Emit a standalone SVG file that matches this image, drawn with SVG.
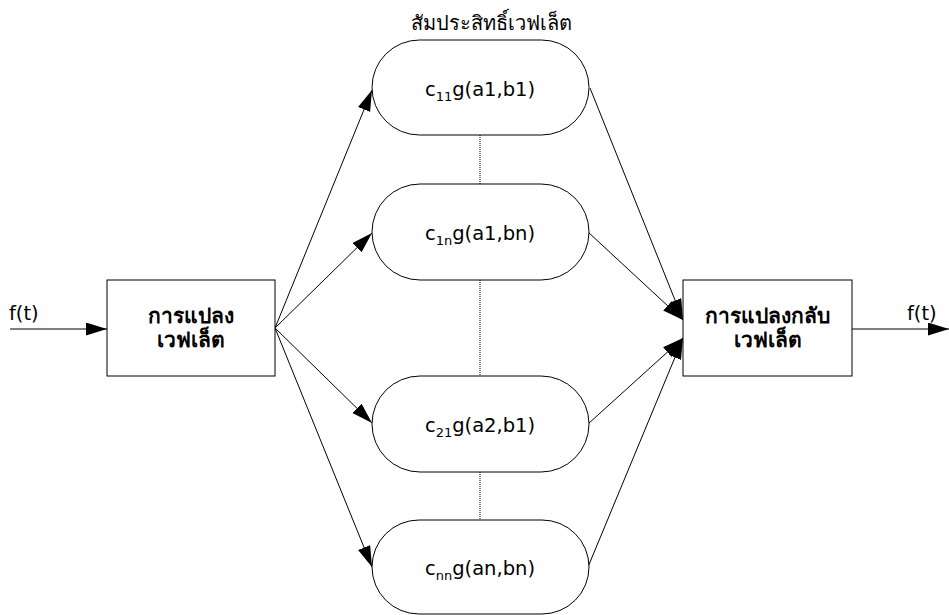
<svg xmlns="http://www.w3.org/2000/svg" width="949" height="615" viewBox="0 0 949 615">
<defs>
<marker id="ah" markerUnits="userSpaceOnUse" markerWidth="22" markerHeight="14" refX="21" refY="6.5" orient="auto">
<path d="M0,0 L21,6.5 L0,13 z" fill="#000"/>
</marker>
<style>
.box{fill:#fff;stroke:#000;stroke-width:1}
.pill{fill:#fff;stroke:#000;stroke-width:1}
.arr{fill:none;stroke:#000;stroke-width:1;marker-end:url(#ah)}
.dot{fill:none;stroke:#000;stroke-width:1;stroke-dasharray:1,1}
.t{font-family:"DejaVu Sans","Noto Sans",sans-serif;font-size:19.5px;fill:#000}
.th{font-family:"DejaVu Sans","Noto Sans",sans-serif;font-size:20px;fill:#000}
.tb{font-family:"DejaVu Sans","Noto Sans",sans-serif;font-size:21px;font-weight:bold;fill:#000}
.sub{font-size:13px}
</style>
</defs>
<rect width="949" height="615" fill="#fff"/>
<g id="connectors">
<line class="arr" x1="10" y1="329" x2="107" y2="329"/>
<line class="arr" x1="852" y1="329" x2="949" y2="329"/>
<line class="arr" x1="275" y1="328" x2="372" y2="90"/>
<line class="arr" x1="275" y1="328" x2="372" y2="233"/>
<line class="arr" x1="275" y1="328" x2="372" y2="423"/>
<line class="arr" x1="275" y1="328" x2="372" y2="567"/>
<line class="arr" x1="590" y1="88" x2="683" y2="320"/>
<line class="arr" x1="588" y1="232" x2="683" y2="320"/>
<line class="arr" x1="588" y1="424" x2="683" y2="338"/>
<line class="arr" x1="588" y1="567" x2="683" y2="338"/>
<line class="dot" x1="480" y1="135" x2="480" y2="184"/>
<line class="dot" x1="480" y1="280" x2="480" y2="376"/>
<line class="dot" x1="480" y1="472" x2="480" y2="520"/>
</g>
<g id="input-label"><text class="t" x="9" y="320">f(t)</text></g>
<g id="output-label"><text class="t" x="907" y="320">f(t)</text></g>
<g id="title"><text class="th" x="491" y="30" text-anchor="middle">สัมประสิทธิ์เวฟเล็ต</text></g>
<g id="wavelet-transform">
<rect class="box" x="107" y="280" width="168" height="96"/>
<text class="tb" x="191" y="323" text-anchor="middle">การแปลง</text>
<text class="tb" x="191" y="347" text-anchor="middle">เวฟเล็ต</text>
</g>
<g id="inverse-transform">
<rect class="box" x="683" y="280" width="169" height="96"/>
<text class="tb" x="767.5" y="323" text-anchor="middle">การแปลงกลับ</text>
<text class="tb" x="767.5" y="347" text-anchor="middle">เวฟเล็ต</text>
</g>
<g id="c11">
<rect class="pill" x="372" y="40" width="217" height="95" rx="47.5" ry="47.5"/>
<text class="t" x="480" y="96" text-anchor="middle">c<tspan class="sub" dy="5">11</tspan><tspan dy="-5">g(a1,b1)</tspan></text>
</g>
<g id="c1n">
<rect class="pill" x="372" y="184" width="217" height="96" rx="48" ry="48"/>
<text class="t" x="480" y="240" text-anchor="middle">c<tspan class="sub" dy="5">1n</tspan><tspan dy="-5">g(a1,bn)</tspan></text>
</g>
<g id="c21">
<rect class="pill" x="372" y="376" width="217" height="96" rx="48" ry="48"/>
<text class="t" x="480" y="432" text-anchor="middle">c<tspan class="sub" dy="5">21</tspan><tspan dy="-5">g(a2,b1)</tspan></text>
</g>
<g id="cnn">
<rect class="pill" x="372" y="520" width="217" height="94" rx="47" ry="47"/>
<text class="t" x="480" y="575" text-anchor="middle">c<tspan class="sub" dy="5">nn</tspan><tspan dy="-5">g(an,bn)</tspan></text>
</g>
</svg>
